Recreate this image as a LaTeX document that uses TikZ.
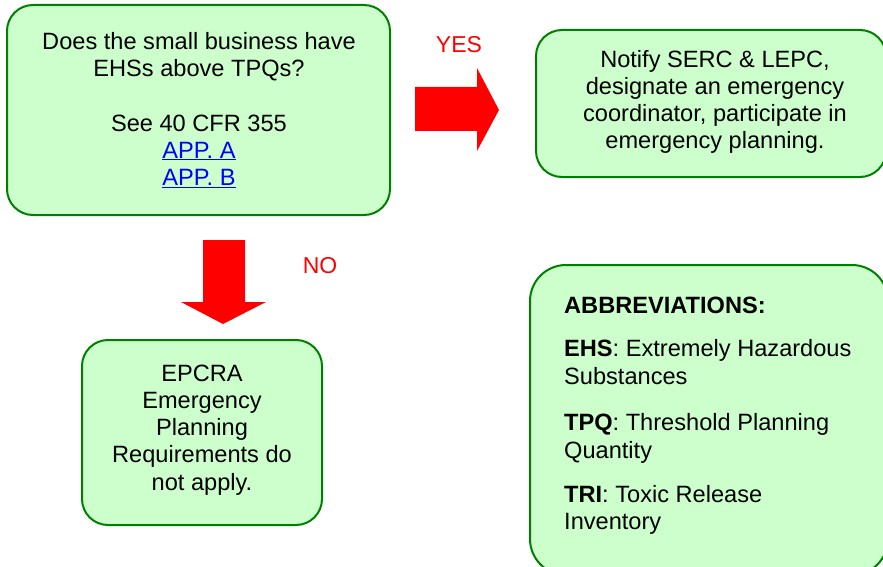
\documentclass[tikz,border=0pt]{standalone}
\usepackage{fontspec}
\setmainfont{Liberation Sans}
\definecolor{boxfill}{RGB}{204,255,204}
\definecolor{boxline}{RGB}{0,128,0}
\definecolor{arrred}{RGB}{255,0,0}
\definecolor{linkblue}{RGB}{0,0,255}
\begin{document}
\begin{tikzpicture}[x=1pt,y=-1pt,
  box/.style={draw=boxline, fill=boxfill, line width=2pt, rounded corners=26pt},
  txt/.style={font=\fontsize{23.6}{27.2}\selectfont, align=center, inner sep=0pt},
  abbr/.style={font=\fontsize{23.6}{27}\selectfont, anchor=base west, inner sep=0pt},
  lbl/.style={font=\fontsize{23}{27}\selectfont, text=arrred, inner sep=0pt},
  blockarrow/.style={fill=arrred, draw=none}]
\useasboundingbox (0,0) rectangle (883,567);
\clip (0,0) rectangle (883,567);
% boxes
\draw[box] (7,5) rectangle (390,215);
\node[txt] (q) at (199,110) {Does the small business have\\EHSs above TPQs?\\[27pt]See 40 CFR 355\\\textcolor{linkblue}{\underline{APP. A}}\\\textcolor{linkblue}{\underline{APP. B}}};
\draw[box] (536,30) rectangle (886,177);
\node[txt] (yes) at (715,102) {Notify SERC \& LEPC,\\designate an emergency\\coordinator, participate in\\emergency planning.};
\draw[box] (82,340) rectangle (322,525);
\node[txt] (no) at (202,430) {EPCRA\\Emergency\\Planning\\Requirements do\\not apply.};
\draw[box, rounded corners=36pt] (530,265) rectangle (888,575);
\node[abbr] (ab) at (564,313) {\textbf{ABBREVIATIONS:}};
\node[abbr] (e1) at (564,356) {\textbf{EHS}: Extremely Hazardous};
\node[abbr] (e2) at (564,384) {Substances};
\node[abbr] (t1) at (564,430) {\textbf{TPQ}: Threshold Planning};
\node[abbr] (t2) at (564,458) {Quantity};
\node[abbr] (r1) at (564,502) {\textbf{TRI}: Toxic Release};
\node[abbr] (r2) at (564,529) {Inventory};
% arrows
\fill[blockarrow] (415,87) -- (477,87) -- (477,68) -- (499,110) -- (477,151) -- (477,131) -- (415,131) -- cycle;
\node[lbl] (yeslbl) at (459,45) {YES};
\fill[blockarrow] (203,240) -- (245,240) -- (245,302) -- (266,302) -- (223,324) -- (181,302) -- (203,302) -- cycle;
\node[lbl] (nolbl) at (320,266) {NO};
\end{tikzpicture}
\end{document}
